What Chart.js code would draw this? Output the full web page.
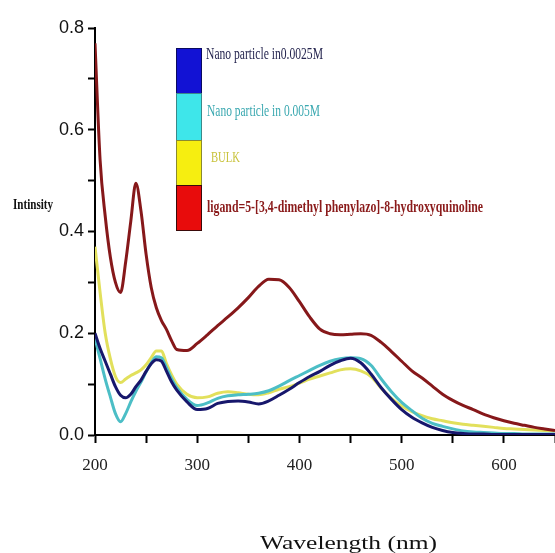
<!DOCTYPE html>
<html>
<head>
<meta charset="utf-8">
<title>Intinsity vs Wavelength</title>
<script src="https://cdn.jsdelivr.net/npm/chart.js@4.4.0/dist/chart.umd.min.js"></script>
<style>
  body { margin: 0; background: #fff; }
  #wrap { position: relative; width: 555px; height: 553px; overflow: hidden; background: #fff; }
  .lbl { position: absolute; white-space: nowrap; line-height: 1; font-family: 'Liberation Serif', 'Times New Roman', serif; transform-origin: 0 50%; }
  .swatch { position: absolute; left: 176px; width: 26px; border: 1px solid #2a2a2a; box-sizing: border-box; }
</style>
</head>
<body>
<div id="wrap">
  <canvas id="chart"></canvas>

  <div class="swatch" style="top:48px;height:46px;background:#1212d4;border-color:#0a0a60"></div>
  <div class="swatch" style="top:93px;height:48px;background:#3ee6ea;border-color:#3a8a8a"></div>
  <div class="swatch" style="top:140px;height:46px;background:#f6ee10;border-color:#8a8a30"></div>
  <div class="swatch" style="top:185px;height:46px;background:#e80c0c;border-color:#3a0a0a"></div>

  <span class="lbl" data-w="117" style="left:206px;top:45px;font-size:17px;color:#262650">Nano particle in0.0025M</span>
  <span class="lbl" data-w="113" style="left:207px;top:102px;font-size:17px;color:#3aa8b0">Nano particle in 0.005M</span>
  <span class="lbl" data-w="29" style="left:211px;top:150px;font-size:15px;color:#c8c23a">BULK</span>
  <span class="lbl" data-w="276" style="left:207px;top:199px;font-size:16px;font-weight:bold;color:#8a1a1a">ligand=5-[3,4-dimethyl phenylazo]-8-hydroxyquinoline</span>

  <span class="lbl" data-w="40" style="left:13px;top:198px;font-size:14px;font-weight:bold;color:#111">Intinsity</span>
  <span class="lbl" data-w="177" style="left:260px;top:534px;font-size:18px;color:#111">Wavelength (nm)</span>
</div>

<script>
// --- Data ---
const wavelengths = [200, 205, 210, 215, 220, 225, 230, 235, 240, 245, 250, 255, 260, 265, 270, 275, 280,
  290, 300, 310, 320, 330, 340, 350, 360, 370, 380, 390, 400, 410, 420, 430, 440, 450, 460, 470, 480,
  490, 500, 510, 520, 530, 540, 550, 560, 570, 580, 590, 600, 610, 620, 630, 640, 650];

const ligand = [0.77, 0.54, 0.43, 0.35, 0.30, 0.28, 0.34, 0.42, 0.495, 0.44, 0.355, 0.29, 0.25, 0.225, 0.207, 0.185, 0.168,
  0.166, 0.18, 0.197, 0.215, 0.232, 0.25, 0.27, 0.292, 0.306, 0.305, 0.29, 0.262, 0.232, 0.208, 0.199, 0.197, 0.198, 0.199, 0.196, 0.182,
  0.164, 0.145, 0.126, 0.112, 0.096, 0.08, 0.068, 0.058, 0.05, 0.041, 0.034, 0.028, 0.023, 0.019, 0.015, 0.012, 0.009];

const nano0025 = [0.2, 0.17, 0.145, 0.12, 0.095, 0.078, 0.073, 0.08, 0.095, 0.108, 0.125, 0.14, 0.148, 0.145, 0.125, 0.104, 0.088,
  0.065, 0.05, 0.052, 0.062, 0.066, 0.067, 0.065, 0.061, 0.067, 0.078, 0.09, 0.103, 0.115, 0.125, 0.137, 0.146, 0.151, 0.142, 0.12, 0.093,
  0.07, 0.05, 0.035, 0.024, 0.015, 0.009, 0.005, 0.003, 0.002, 0.002, 0.001, 0.001, 0.001, 0.001, 0.001, 0.001, 0.001];

const nano005 = [0.19, 0.15, 0.11, 0.075, 0.042, 0.026, 0.042, 0.065, 0.086, 0.104, 0.124, 0.142, 0.154, 0.152, 0.132, 0.11, 0.093,
  0.07, 0.058, 0.063, 0.072, 0.077, 0.079, 0.08, 0.082, 0.087, 0.096, 0.107, 0.117, 0.127, 0.137, 0.145, 0.15, 0.152, 0.15, 0.137, 0.11,
  0.085, 0.064, 0.048, 0.033, 0.023, 0.017, 0.012, 0.008, 0.006, 0.005, 0.004, 0.003, 0.003, 0.002, 0.002, 0.002, 0.002];

const bulk = [0.37, 0.28, 0.2, 0.15, 0.115, 0.103, 0.11, 0.117, 0.122, 0.128, 0.138, 0.152, 0.165, 0.165, 0.14, 0.118, 0.1,
  0.08, 0.073, 0.075, 0.082, 0.085, 0.083, 0.08, 0.079, 0.083, 0.09, 0.095, 0.102, 0.11, 0.116, 0.122, 0.128, 0.13, 0.126, 0.115, 0.092,
  0.072, 0.057, 0.046, 0.038, 0.032, 0.028, 0.024, 0.021, 0.019, 0.017, 0.015, 0.013, 0.012, 0.011, 0.01, 0.009, 0.008];

const xRange = [200, 650];
const yRange = [0, 0.8];

const toPoints = (vals) => wavelengths.map((w, i) => ({ x: w, y: vals[i] }));

function series(label, vals, color) {
  return {
    label: label,
    data: toPoints(vals),
    borderColor: color,
    borderWidth: 3,
    pointRadius: 0,
    tension: 0.4,
    cubicInterpolationMode: 'monotone',
    fill: false
  };
}

// --- Chart ---

const ctx = document.getElementById('chart').getContext('2d');
new Chart(ctx, {
  type: 'line',
  data: {
    // index 0 is painted last (on top)
    datasets: [
      series('ligand=5-[3,4-dimethyl phenylazo]-8-hydroxyquinoline', ligand, '#86181a'),
      series('Nano particle in0.0025M', nano0025, '#17176c'),
      series('Nano particle in 0.005M', nano005, '#4cbec6'),
      series('BULK', bulk, '#e2e05c')
    ]
  },
  options: {
    responsive: true,
    maintainAspectRatio: false,
    animation: false,
    layout: { padding: { top: 28, right: 0, bottom: 0, left: 0 } },
    plugins: { legend: { display: false }, tooltip: { enabled: false } },
    scales: {
      x: {
        type: 'linear',
        min: xRange[0],
        max: xRange[1],
        border: { color: '#000', width: 2 },
        grid: { drawOnChartArea: false, drawTicks: true, tickLength: 8, tickWidth: 2, tickColor: '#000' },
        ticks: {
          stepSize: 50,
          autoSkip: false,
          maxRotation: 0,
          padding: 12,
          color: '#222',
          font: { family: "'Liberation Serif', serif", size: 17 },
          callback: (v) => (v % 100 === 0 && v < 650 ? String(v) : '')
        },
        afterFit: (scale) => {
          scale.height = 118;
          scale.paddingRight = 0;
        }
      },
      y: {
        min: yRange[0],
        max: yRange[1],
        border: { color: '#000', width: 2 },
        grid: { drawOnChartArea: false, drawTicks: true, tickLength: 7, tickWidth: 2, tickColor: '#000' },
        ticks: {
          stepSize: 0.1,
          autoSkip: false,
          padding: 4,
          color: '#111',
          font: { family: "'Liberation Sans', Arial, sans-serif", size: 18 },
          callback: (v) => (Math.round(v * 10) % 2 === 0 ? v.toFixed(1) : '')
        },
        afterFit: (scale) => { scale.width = 95; }
      }
    }
  }
});

// squeeze the overlay labels to the widths they have in the figure
document.querySelectorAll('.lbl').forEach(el => {
  const target = parseFloat(el.dataset.w);
  const w = el.getBoundingClientRect().width;
  if (w > 0) el.style.transform = `scaleX(${target / w})`;
});
</script>
</body>
</html>
